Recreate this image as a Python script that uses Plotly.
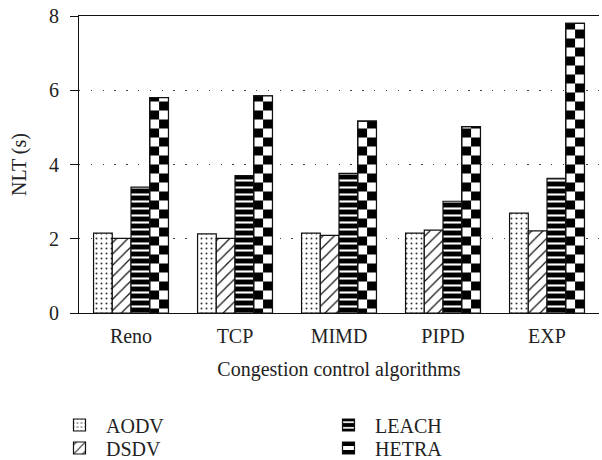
import plotly.graph_objects as go

categories = ["Reno", "TCP", "MIMD", "PIPD", "EXP"]
aodv = [2.15, 2.13, 2.15, 2.15, 2.69]
dsdv = [2.01, 2.01, 2.09, 2.23, 2.21]
leach = [3.39, 3.70, 3.76, 3.01, 3.63]
hetra = [5.80, 5.85, 5.17, 5.02, 7.80]
y_ticks = [0, 2, 4, 6, 8]

FONT = "Liberation Serif"
FS = 20
TXT = "#222222"
LINE = dict(color="#111111", width=1.2)
BW = 0.18  # bar width in category units

# plot area in pixels (for placing legends in paper coordinates)
ML, MR, MT, MB, WIDTH, HEIGHT = 79, 3, 16, 147, 602, 460
PW = WIDTH - ML - MR
PH = HEIGHT - MT - MB

fig = go.Figure()

fig.add_trace(go.Bar(
    x=categories, y=aodv, name="AODV", offset=-2 * BW, width=BW,
    marker=dict(color="white", line=LINE,
                pattern=dict(shape=".", fgcolor="#333333", bgcolor="white",
                             size=5, solidity=0.12, fillmode="replace")),
    legend="legend"))
fig.add_trace(go.Bar(
    x=categories, y=dsdv, name="DSDV", offset=-BW, width=BW,
    marker=dict(color="white", line=LINE,
                pattern=dict(shape="/", fgcolor="#111111", bgcolor="white",
                             size=8, solidity=0.15, fillmode="replace")),
    legend="legend2"))
fig.add_trace(go.Bar(
    x=categories, y=leach, name="LEACH", offset=0, width=BW,
    marker=dict(color="black", line=LINE,
                pattern=dict(shape="-", fgcolor="white", bgcolor="black",
                             size=7, solidity=0.3, fillmode="replace")),
    legend="legend3"))
# HETRA checkerboard: full bar with stripes, right half with inverted stripes
fig.add_trace(go.Bar(
    x=categories, y=hetra, name="HETRA", offset=BW, width=BW,
    marker=dict(color="white", line=LINE,
                pattern=dict(shape="-", fgcolor="black", bgcolor="white",
                             size=18, solidity=0.5, fillmode="replace")),
    legend="legend4"))
fig.add_trace(go.Bar(
    x=categories, y=hetra, name="HETRA", offset=1.5 * BW, width=BW / 2,
    showlegend=False,
    marker=dict(color="black", line=dict(width=0),
                pattern=dict(shape="-", fgcolor="white", bgcolor="black",
                             size=18, solidity=0.5, fillmode="replace")),
    legend="legend4"))
fig.add_trace(go.Bar(
    x=categories, y=hetra, name="HETRA", offset=BW, width=BW,
    showlegend=False, hoverinfo="skip",
    marker=dict(color="rgba(0,0,0,0)", line=LINE),
    legend="legend4"))


def leg(xpx, ypx):
    return dict(x=(xpx - ML) / PW, y=(MT + PH - ypx) / PH,
                xanchor="left", yanchor="middle", orientation="v",
                itemwidth=43, font=dict(family=FONT, size=FS, color=TXT),
                bgcolor="rgba(0,0,0,0)", borderwidth=0)


fig.update_layout(
    width=WIDTH, height=HEIGHT,
    margin=dict(l=ML, r=MR, t=MT, b=MB, autoexpand=False),
    paper_bgcolor="white", plot_bgcolor="white",
    barmode="overlay",
    font=dict(family=FONT, size=FS, color=TXT),
    showlegend=True,
    legend=leg(53, 425),
    legend2=leg(53, 448),
    legend3=leg(322, 425),
    legend4=leg(322, 448),
    xaxis=dict(
        type="category", range=[-0.5, 4.5], automargin=False,
        showline=True, linecolor="#111111", linewidth=1.2, mirror=True,
        ticks="", showgrid=False, tickangle=0, ticklabelstandoff=5,
        tickfont=dict(family=FONT, size=FS, color=TXT),
        title=dict(text="Congestion control algorithms", standoff=15,
                   font=dict(family=FONT, size=FS, color=TXT)),
    ),
    yaxis=dict(
        range=[0, 8], tickvals=y_ticks, ticktext=[str(v) for v in y_ticks],
        automargin=False,
        showline=True, linecolor="#111111", linewidth=1.2, mirror=False,
        ticks="outside", ticklen=8, tickcolor="#111111", tickwidth=1.2,
        ticklabelstandoff=7,
        showgrid=True, gridcolor="#444444", gridwidth=1.3,
        griddash="1.3px,10.5px", zeroline=False,
        tickfont=dict(family=FONT, size=FS, color=TXT),
        title=dict(text="NLT (s)", standoff=16,
                   font=dict(family=FONT, size=FS, color=TXT)),
    ),
)

fig.write_html(
    "out.html",
    config={"displayModeBar": False},
    post_script="document.body.style.margin='0';document.body.style.overflow='hidden';",
)
